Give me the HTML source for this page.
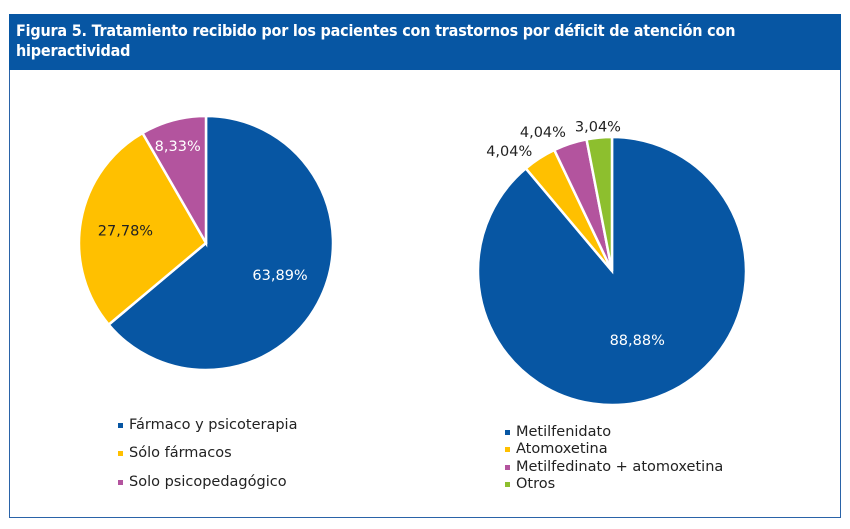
<!DOCTYPE html>
<html><head><meta charset="utf-8"><style>
body{margin:0;background:#fff;font-family:"DejaVu Sans","Liberation Sans",sans-serif}
#wrap{position:relative;width:850px;height:529px;overflow:hidden}
#frame{position:absolute;left:9px;top:14px;width:830px;height:502px;border:1px solid #2a63a8}
#hdr{position:absolute;left:9px;top:14px;width:832px;height:56px;background:#0756a3;color:#fff;font-weight:bold;font-size:16px;line-height:20px;box-sizing:border-box;padding:7px 0 0 7px;font-family:"DejaVu Sans Condensed","Liberation Sans Narrow","Liberation Sans",sans-serif;letter-spacing:-0.2px}
svg{position:absolute;left:0;top:0}
svg text{font-family:"DejaVu Sans","Liberation Sans",sans-serif}
</style></head><body><div id="wrap">
<div id="frame"></div>
<div id="hdr">Figura 5. Tratamiento recibido por los pacientes con trastornos por déficit de atención con<br>hiperactividad</div>
<svg id="s" width="850" height="529"></svg>
</div>
<script>
const leftCats=["Fármaco y psicoterapia","Sólo fármacos","Solo psicopedagógico"];
const leftVals=[63.89,27.78,8.33];
const leftLabels=["63,89%","27,78%","8,33%"];
const rightCats=["Metilfenidato","Atomoxetina","Metilfedinato + atomoxetina","Otros"];
const rightVals=[88.88,4.04,4.04,3.04];
const rightLabels=["88,88%","4,04%","4,04%","3,04%"];
const colors=["#0756a3","#ffc000","#b3549e","#8dbf2e"];
const NS="http://www.w3.org/2000/svg",svg=document.getElementById('s');
function mk(t,a){const e=document.createElementNS(NS,t);for(const k in a)e.setAttribute(k,a[k]);svg.appendChild(e);return e;}
function pie(cx,cy,r,vals,labels,labelPos,pre){
 const tot=vals.reduce((a,b)=>a+b,0);let a0=0;
 vals.forEach((v,i)=>{const a1=a0+v/tot*2*Math.PI;
  const p=(a)=>[cx+r*Math.sin(a),cy-r*Math.cos(a)];
  const [x0,y0]=p(a0),[x1,y1]=p(a1);
  const e=mk('path',{d:`M${cx},${cy}L${x0},${y0}A${r},${r} 0 ${a1-a0>Math.PI?1:0} 1 ${x1},${y1}Z`,fill:colors[i],stroke:'#fff','stroke-width':2.5});
  
  
  const m=(a0+a1)/2,lp=labelPos[i];
  const x=cx+lp.f*r*Math.sin(m)+lp.dx,y=cy-lp.f*r*Math.cos(m)+lp.dy;
  const t=mk('text',{x:x,y:y,'text-anchor':'middle','font-size':14.5,fill:lp.c});t.textContent=labels[i];
  
  
  a0=a1;});
}
pie(206,243,127,leftVals,leftLabels,[{f:0.6,dx:5,dy:5,c:'#fff'},{f:0.62,dx:-3,dy:6,c:'#222'},{f:0.8,dx:-2,dy:6,c:'#fff'}],'left');
pie(612,271,134,rightVals,rightLabels,[{f:0.55,dx:0,dy:5,c:'#fff'},{f:1.1,dx:-23,dy:9,c:'#222'},{f:1.1,dx:-23,dy:6,c:'#222'},{f:1.1,dx:0,dy:7,c:'#222'}],'right');
function legend(x,ys,cats,pre,fs){cats.forEach((c,i)=>{
 const r=mk('rect',{x:x,y:ys[i]-6,width:5,height:5,fill:colors[i]});
 
 
 const t=mk('text',{x:x+11,y:ys[i],'font-size':fs,fill:'#222'});t.textContent=c;
 
 });}
legend(118,[429,457,486],leftCats,'left',14.5);
legend(505,[436,453,471,488],rightCats,'right',14.5);
</script></body></html>
